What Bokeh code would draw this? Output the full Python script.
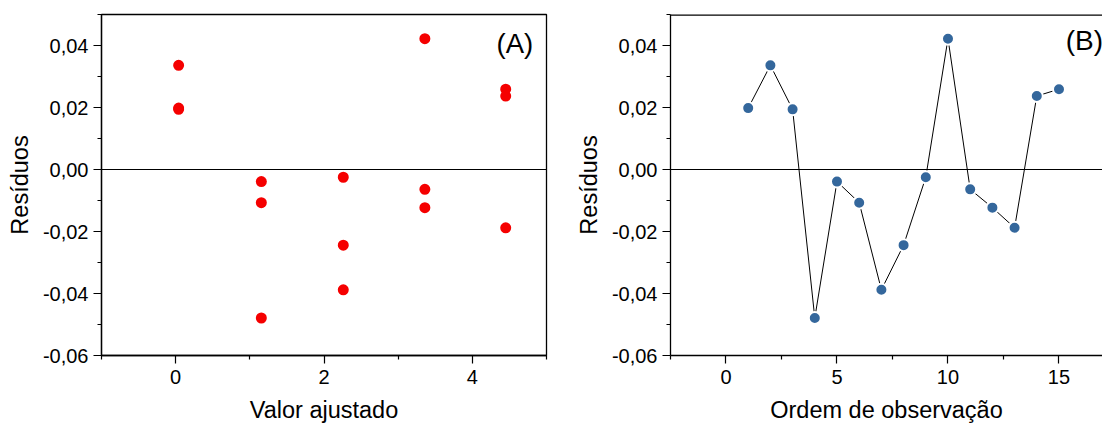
from bokeh.plotting import figure
from bokeh.layouts import row
from bokeh.models import (Range1d, FixedTicker, CustomJSTickFormatter, Span,
                          ColumnDataSource, Label)
from bokeh.embed import file_html
from bokeh.resources import INLINE

# ---- data ----
observation = list(range(1, 16))
fitted = [0.04, 0.04, 0.04, 1.155, 1.155, 1.155, 2.26, 2.26, 2.26,
          3.36, 3.36, 3.36, 4.45, 4.45, 4.45]
residuals = [0.0198, 0.0336, 0.0194, -0.0479, -0.0039, -0.0107, -0.0388,
             -0.0244, -0.0025, 0.0422, -0.0064, -0.0123, -0.0188, 0.0237, 0.0259]
y_ticks = [-0.06, -0.04, -0.02, 0.0, 0.02, 0.04]
y_minor = [-0.05, -0.03, -0.01, 0.01, 0.03, 0.05]
xa_ticks = [0, 2, 4]
xa_minor = [-1, 1, 3, 5]
xb_ticks = [0, 5, 10, 15]
xb_minor = [-2.5, 2.5, 7.5, 12.5]

FONT = "Liberation Sans"
src = ColumnDataSource(dict(obs=observation, fit=fitted, res=residuals))

yfmt = CustomJSTickFormatter(code="return tick.toFixed(2).replace('.', ',');")


def style(p, xt, xm, xlabel):
    p.xgrid.visible = False
    p.ygrid.visible = False
    p.background_fill_color = "white"
    p.border_fill_color = "white"
    for ax in (p.xaxis[0], p.yaxis[0]):
        ax.axis_line_color = "black"
        ax.axis_line_width = 1.3
        ax.major_tick_line_color = "black"
        ax.minor_tick_line_color = "black"
        ax.major_tick_line_width = 1.2
        ax.minor_tick_line_width = 1.2
        ax.major_tick_in = 0
        ax.major_tick_out = 8
        ax.minor_tick_in = 0
        ax.minor_tick_out = 4
        ax.major_label_text_font = FONT
        ax.major_label_text_font_size = "20px"
        ax.major_label_text_color = "black"
        ax.axis_label_text_font = FONT
        ax.axis_label_text_font_size = "23.5px"
        ax.axis_label_text_font_style = "normal"
        ax.axis_label_text_color = "black"
    p.xaxis[0].ticker = FixedTicker(ticks=xt, minor_ticks=xm)
    p.yaxis[0].ticker = FixedTicker(ticks=y_ticks, minor_ticks=y_minor)
    p.yaxis[0].formatter = yfmt
    p.xaxis[0].axis_label = xlabel
    p.yaxis[0].axis_label = "Resíduos"
    p.xaxis[0].major_label_standoff = 6
    p.xaxis[0].axis_label_standoff = 10
    p.yaxis[0].major_label_standoff = 5
    p.yaxis[0].axis_label_standoff = 7
    p.add_layout(Span(location=0, dimension="width", line_color="black", line_width=1.2))


# ---- panel A ----
pa = figure(width=560, height=426, output_backend="svg", toolbar_location=None,
            x_range=Range1d(-1, 5), y_range=Range1d(-0.06, 0.05),
            min_border_left=101, min_border_right=14, min_border_top=14,
            min_border_bottom=71)
style(pa, xa_ticks, xa_minor, "Valor ajustado")
pa.outline_line_color = "black"
pa.outline_line_width = 1.3
pa.scatter("fit", "res", source=src, size=11, fill_color="#f50000",
           line_color="#f50000", line_width=0)
pa.add_layout(Label(x=4.82, y=0.0406, text="(A)", text_align="right",
                    text_baseline="middle", text_font=FONT,
                    text_font_size="27.5px", text_color="black"))

# ---- panel B ----
pb = figure(width=542, height=426, output_backend="svg", toolbar_location=None,
            x_range=Range1d(-2.5, 16.96), y_range=Range1d(-0.06, 0.05),
            min_border_left=110, min_border_right=0, min_border_top=14,
            min_border_bottom=71)
style(pb, xb_ticks, xb_minor, "Ordem de observação")
pb.outline_line_color = None
pb.add_layout(Span(location=0.05, dimension="width", line_color="black", line_width=2.6))
pb.line("obs", "res", source=src, line_color="black", line_width=1)
pb.scatter("obs", "res", source=src, size=12, fill_color="#34679c",
           line_color="white", line_width=2)
pb.add_layout(Label(x=15.3, y=0.0416, text="(B)", text_align="left",
                    text_baseline="middle", text_font=FONT,
                    text_font_size="28px", text_color="black"))

layout = row(pa, pb)
open("out.html", "w").write(file_html(layout, INLINE))
